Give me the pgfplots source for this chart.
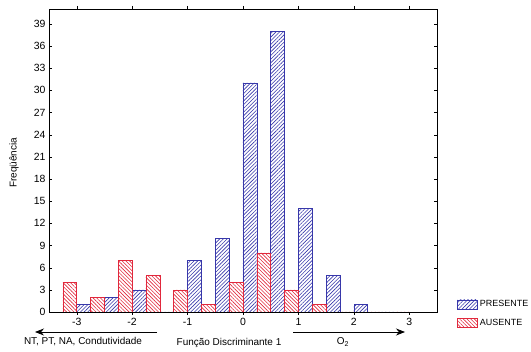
\documentclass[border=0pt]{standalone}
\usepackage{fontspec}
\setmainfont{Liberation Sans}
\usepackage{pgfplots}
\pgfplotsset{compat=1.18}
\usetikzlibrary{patterns.meta,arrows.meta}
\definecolor{pblue}{RGB}{55,55,170}
\definecolor{ared}{RGB}{225,40,60}
\begin{document}
\begin{tikzpicture}
\path[use as bounding box] (0,0) rectangle (531bp,352bp);
\begin{axis}[at={(49bp,40bp)}, anchor=south west, scale only axis,
  width=388bp, height=303bp,
  xmin=-3.5, xmax=3.5, ymin=0, ymax=41,
  ybar, bar width=0.25,
  xtick={-3,-2,-1,0,1,2,3}, ytick={0,3,...,39},
  tick label style={font=\fontsize{10.5}{12}\selectfont},
  /pgf/number format/assume math mode=true,
  major tick length=3bp, tick style={black},
  axis line style={black, line width=0.8pt},
  legend style={at={(1.052,-0.006)}, anchor=west, draw=none, fill=none,
    inner sep=0pt, row sep=7bp, font=\fontsize{9}{11}\selectfont,
    cells={anchor=west}, /tikz/every even column/.append style={column sep=3bp}},
  legend image code/.code={\draw[#1] (0bp,-4.5bp) rectangle (20bp,4.5bp);},
]
\addplot[bar shift=0.125, draw=pblue, line width=0.6pt,
  pattern={Lines[angle=45,distance=2.6bp,line width=0.6bp]}, pattern color=pblue]
  coordinates {(-3,1) (-2.5,2) (-2,3) (-1.5,0) (-1,7) (-0.5,10) (0,31) (0.5,38) (1,14) (1.5,5) (2,1) (2.5,0)};
\addlegendentry{PRESENTE}
\addplot[bar shift=-0.125, draw=ared, line width=0.6pt,
  pattern={Lines[angle=-45,distance=2.6bp,line width=0.6bp]}, pattern color=ared]
  coordinates {(-3,4) (-2.5,2) (-2,7) (-1.5,5) (-1,3) (-0.5,1) (0,4) (0.5,8) (1,3) (1.5,1) (2,0) (2.5,0) (3,0)};
\addlegendentry{AUSENTE}
\end{axis}
\node[rotate=90, font=\fontsize{10}{12}\selectfont] at (14bp,189bp) {Freqüência};
\draw[line width=0.8pt, -{Stealth[length=9bp,width=7bp]}] (157bp,20bp) -- (35bp,20bp);
\node[font=\fontsize{10}{12}\selectfont] at (83bp,10bp) {NT, PT, NA, Condutividade};
\node[font=\fontsize{10}{12}\selectfont] at (229bp,9bp) {Função Discriminante 1};
\draw[line width=0.8pt, -{Stealth[length=9bp,width=7bp]}] (293bp,20bp) -- (405bp,20bp);
\node[font=\fontsize{10}{12}\selectfont] at (343bp,10bp) {O\textsubscript{2}};
\end{tikzpicture}
\end{document}
